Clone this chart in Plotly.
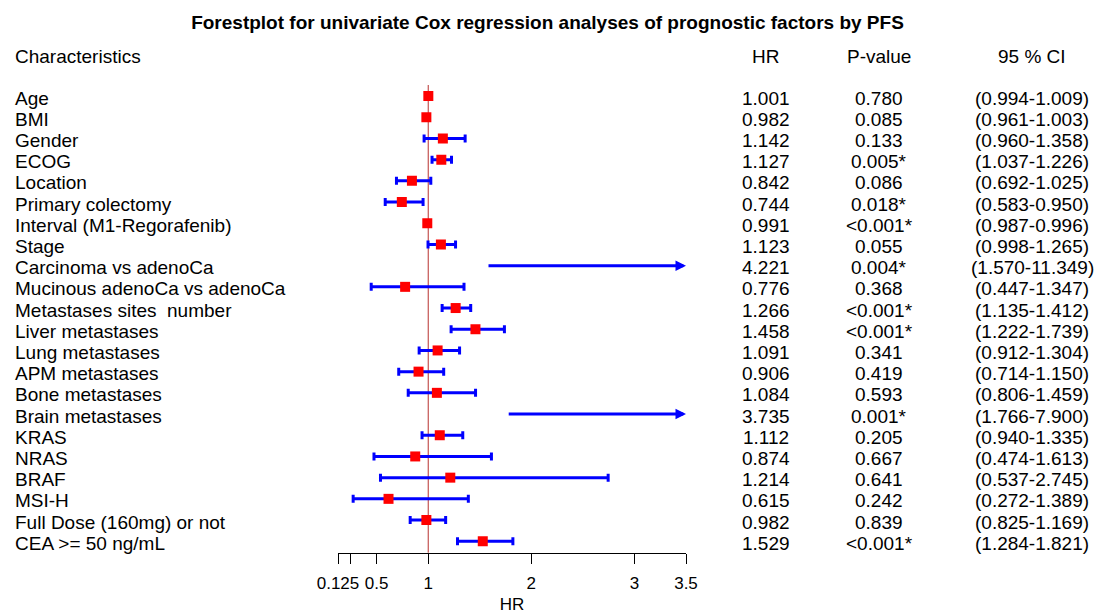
import plotly.graph_objects as go

labels = ["Age", "BMI", "Gender", "ECOG", "Location", "Primary colectomy",
          "Interval (M1-Regorafenib)", "Stage", "Carcinoma vs adenoCa",
          "Mucinous adenoCa vs adenoCa", "Metastases sites\u00a0 number",
          "Liver metastases", "Lung metastases", "APM metastases",
          "Bone metastases", "Brain metastases", "KRAS", "NRAS", "BRAF",
          "MSI-H", "Full Dose (160mg) or not", "CEA &gt;= 50 ng/mL"]
hr = [1.001, 0.982, 1.142, 1.127, 0.842, 0.744, 0.991, 1.123, 4.221, 0.776,
      1.266, 1.458, 1.091, 0.906, 1.084, 3.735, 1.112, 0.874, 1.214, 0.615,
      0.982, 1.529]
lo = [0.994, 0.961, 0.960, 1.037, 0.692, 0.583, 0.987, 0.998, 1.570, 0.447,
      1.135, 1.222, 0.912, 0.714, 0.806, 1.766, 0.940, 0.474, 0.537, 0.272,
      0.825, 1.284]
hi = [1.009, 1.003, 1.358, 1.226, 1.025, 0.950, 0.996, 1.265, 11.349, 1.347,
      1.412, 1.739, 1.304, 1.150, 1.459, 7.900, 1.335, 1.613, 2.745, 1.389,
      1.169, 1.821]
pval = ["0.780", "0.085", "0.133", "0.005*", "0.086", "0.018*", "&lt;0.001*",
        "0.055", "0.004*", "0.368", "&lt;0.001*", "&lt;0.001*", "0.341",
        "0.419", "0.593", "0.001*", "0.205", "0.667", "0.641", "0.242",
        "0.839", "&lt;0.001*"]
tick_vals = [0.125, 0.25, 0.5, 1, 2, 3, 3.5]
tick_text = ["0.125", "", "0.5", "1", "2", "3", "3.5"]

XMIN, XMAX = 0.125, 3.5
W, H = 1095, 615
FONT = "Liberation Sans, Arial, sans-serif"

rows = list(range(1, len(labels) + 1))
inside = [h <= XMAX for h in hr]

fig = go.Figure()

# reference line at HR = 1
fig.add_shape(type="line", x0=1, x1=1, xref="x", y0=0, y1=1, yref="y domain",
              line=dict(color="#B8312F", width=1), layer="below")

xs = [h for h, ok in zip(hr, inside) if ok]
ys = [r for r, ok in zip(rows, inside) if ok]
ep = [hh - h for hh, h, ok in zip(hi, hr, inside) if ok]
em = [h - l for l, h, ok in zip(lo, hr, inside) if ok]
fig.add_trace(go.Scatter(
    x=xs, y=ys, mode="markers",
    marker=dict(symbol="square", size=10, color="#FF0000"),
    error_x=dict(type="data", array=ep, arrayminus=em, color="#0000FF",
                 thickness=3, width=4),
    showlegend=False, hoverinfo="skip"))

annotations = []
for r, h, l, ok in zip(rows, hr, lo, inside):
    if not ok:
        annotations.append(dict(x=XMAX, y=r, xref="x", yref="y", ax=l, ay=r,
                                axref="x", ayref="y", text="", showarrow=True,
                                arrowhead=2, arrowsize=0.7, arrowwidth=3,
                                arrowcolor="#0000FF", standoff=0))

fs = 19
for r, lab, h, p, l, hh in zip(rows, labels, hr, pval, lo, hi):
    common = dict(yref="y", y=r, xref="paper", showarrow=False, yshift=-2,
                  yanchor="middle",
                  font=dict(family=FONT, size=fs, color="black"))
    annotations.append(dict(x=13 / W, xanchor="left", text=lab, **common))
    annotations.append(dict(x=765.5 / W, xanchor="center", text=f"{h:.3f}", **common))
    annotations.append(dict(x=879 / W, xanchor="center", text=p, **common))
    annotations.append(dict(x=1032 / W, xanchor="center",
                            text=f"({l:.3f}-{hh:.3f})", **common))

hy = 1 - 56 / H
hdr = dict(yref="paper", y=hy, xref="paper", showarrow=False, yanchor="middle",
           font=dict(family=FONT, size=fs, color="black"))
annotations.append(dict(x=13 / W, xanchor="left", text="Characteristics", **hdr))
annotations.append(dict(x=765.5 / W, xanchor="center", text="HR", **hdr))
annotations.append(dict(x=879 / W, xanchor="center", text="P-value", **hdr))
annotations.append(dict(x=1032 / W, xanchor="center", text="95 % CI", **hdr))

fig.update_layout(
    width=W, height=H, autosize=False,
    margin=dict(l=0, r=0, t=0, b=0, pad=0, autoexpand=False),
    paper_bgcolor="white", plot_bgcolor="white",
    title=dict(text="<b>Forestplot for univariate Cox regression analyses of prognostic factors by PFS</b>",
               x=0.5, xanchor="center", y=1 - 22 / H, yanchor="middle",
               font=dict(family=FONT, size=19, color="black")),
    annotations=annotations,
    xaxis=dict(domain=[338 / W, 686 / W], range=[XMIN, XMAX],
               tickvals=tick_vals, ticktext=tick_text,
               ticks="outside", ticklen=10, tickwidth=1, tickcolor="black",
               showline=True, linecolor="black", linewidth=1,
               showgrid=False, zeroline=False, automargin=False,
               ticklabelstandoff=5,
               tickfont=dict(family=FONT, size=17, color="black"),
               title=dict(text="HR", standoff=6,
                          font=dict(family=FONT, size=17, color="black"))),
    yaxis=dict(domain=[1 - 552.7 / H, 1 - 85 / H], range=[22.54, 0.48],
               visible=False, automargin=False),
)

fig.write_html("out.html")
